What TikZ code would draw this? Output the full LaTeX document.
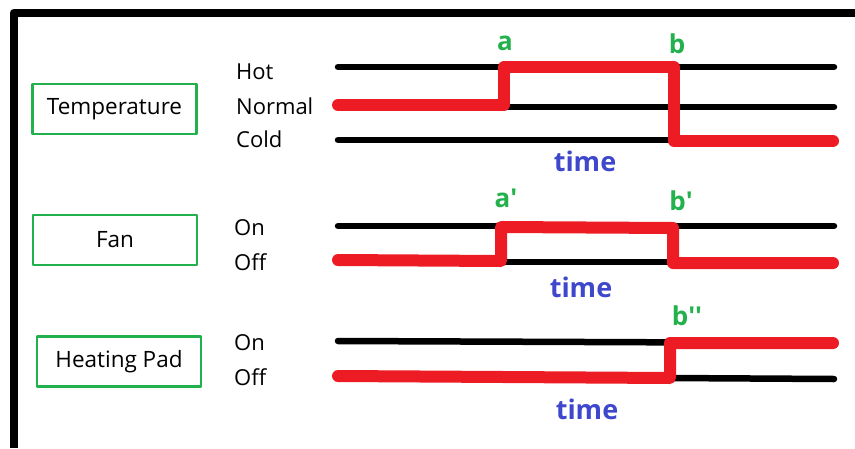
\documentclass[tikz,border=0pt]{standalone}
\usepackage{fontspec}
\setmainfont{Open Sans}
\usetikzlibrary{positioning}
\definecolor{paintgreen}{RGB}{34,177,76}
\definecolor{paintred}{RGB}{237,28,36}
\definecolor{paintblue}{RGB}{63,72,204}
\newcommand{\pr}{\textquotesingle}

\begin{document}
\begin{tikzpicture}[x=1pt,y=-1pt,line cap=round,line join=round,
    box/.style={draw=paintgreen,line width=2.5pt,minimum width=164pt,minimum height=50pt,inner sep=0pt,font=\fontsize{22.5}{26}\selectfont},
    level/.style={anchor=west,inner sep=0pt,font=\fontsize{22}{26}\selectfont},
    axis/.style={line width=6.5pt},
    signal/.style={draw=paintred,line width=12pt},
    edgelabel/.style={text=paintgreen,inner sep=0pt,font=\bfseries\fontsize{26}{30}\selectfont},
    timelabel/.style={text=paintblue,inner sep=0pt,font=\bfseries\fontsize{27}{31}\selectfont}]

    \useasboundingbox (0,0) rectangle (855,448);

    % frame
    \draw[line width=8pt,line cap=butt] (13.5,448) -- (13.5,13) -- (855,13);

    % boxes
    \node[box] (temp) at (114.5,109) {Temperature};
    \node[box] (fan)  at (115,240)   {Fan};
    \node[box] (pad)  at (119,361.5) {Heating Pad};

    % level names
    \node[level] (hot)    at (236,72)  {Hot};
    \node[level] (normal) at (236,106) {Normal};
    \node[level] (cold)   at (236,139) {Cold};
    \node[level] (fanon)  at (234,228) {On};
    \node[level] (fanoff) at (234,262) {Off};
    \node[level] (padon)  at (234,343) {On};
    \node[level] (padoff) at (234,377) {Off};

    % temperature
    \draw[axis] (338,67) -- (834,67);
    \draw[axis] (338,107) -- (834,107);
    \draw[axis] (338,140) -- (834,140);
    \draw[signal] (338,105) -- (504,105) -- (504,67) -- (674,67) -- (674,141) -- (833,141);
    \node[edgelabel] (a) at (505,43) {a};
    \node[edgelabel] (b) at (677,44) {b};
    \node[timelabel] (time1) at (585,161) {time};

    % fan
    \draw[axis] (338,226) -- (834,226);
    \draw[axis] (338,262) -- (834,262);
    \draw[signal] (338,260) -- (501,261) -- (501,227) -- (673,228) -- (673,263) -- (833,263);
    \node[edgelabel] (a') at (506,198) {a\pr};
    \node[edgelabel] (b') at (681,201) {b\pr};
    \node[timelabel] (time2) at (581,287) {time};

    % heating pad
    \draw[axis] (338,341) -- (834,343);
    \draw[axis] (338,376) -- (834,379);
    \draw[signal] (338,376) -- (670,378) -- (670,343) -- (833,343);
    \node[edgelabel] (b'') at (687,316) {b\pr\pr};
    \node[timelabel] (time3) at (587,409) {time};

\end{tikzpicture}
\end{document}
